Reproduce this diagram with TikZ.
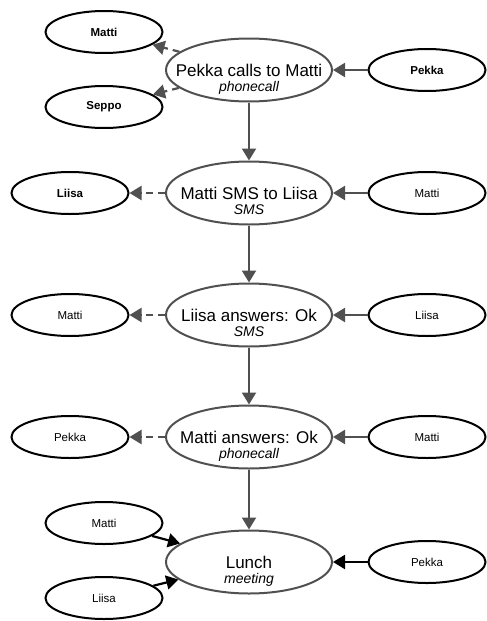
\documentclass[tikz,border=0pt]{standalone}
\usepackage{fontspec}
\setmainfont{Liberation Sans}
\usetikzlibrary{shapes.geometric,arrows.meta}
\definecolor{linegray}{HTML}{505050}
\newcommand{\evtext}[2]{\makebox[0pt]{\fontsize{17}{18}\selectfont #1}\makebox[0pt]{\raisebox{-15pt}[0pt][0pt]{\fontsize{14}{15}\selectfont\itshape #2}}}
\tikzset{
  event/.style={ellipse, draw=linegray, line width=2pt, minimum width=166pt, minimum height=63pt, inner sep=0pt},
  actor/.style={ellipse, draw=black, line width=2pt, minimum width=117pt, minimum height=42pt, inner sep=0pt, font=\fontsize{11.5}{13}\selectfont},
  flow/.style={draw=linegray, line width=2.2pt, -{Triangle[width=14pt,length=12pt]}},
  sends/.style={flow, dash pattern=on 7pt off 5pt},
  joins/.style={flow, draw=black}
}
\begin{document}
\begin{tikzpicture}[x=1pt, y=-1pt]
  \useasboundingbox (0,0) rectangle (487,621);
  % events
  \node[event] (call1) at (249,70) {\evtext{Pekka calls to Matti}{phonecall}};
  \node[event] (sms1) at (249,193) {\evtext{Matti SMS to Liisa}{SMS}};
  \node[event] (sms2) at (249,315) {\evtext{Liisa answers: Ok}{SMS}};
  \node[event] (call2) at (249,437) {\evtext{Matti answers: Ok}{phonecall}};
  \node[event] (lunch) at (249,562) {\evtext{Lunch}{meeting}};
  % actors
  \node[actor] (matti1) at (104,32) {\textbf{Matti}};
  \node[actor] (seppo1) at (104,107) {\textbf{Seppo}};
  \node[actor] (pekka1) at (427,70) {\textbf{Pekka}};
  \node[actor] (liisa2) at (70,193) {\textbf{Liisa}};
  \node[actor] (matti2) at (427,193) {Matti};
  \node[actor] (matti3) at (70,315) {Matti};
  \node[actor] (liisa3) at (427,315) {Liisa};
  \node[actor] (pekka4) at (70,437) {Pekka};
  \node[actor] (matti4) at (427,437) {Matti};
  \node[actor] (matti5) at (104,523) {Matti};
  \node[actor] (liisa5) at (104,598) {Liisa};
  \node[actor] (pekka5) at (427,562) {Pekka};
  % sequence
  \draw[flow] (call1) -- (sms1);
  \draw[flow] (sms1) -- (sms2);
  \draw[flow] (sms2) -- (call2);
  \draw[flow] (call2) -- (lunch);
  % senders
  \draw[flow] (pekka1) -- (call1);
  \draw[flow] (matti2) -- (sms1);
  \draw[flow] (liisa3) -- (sms2);
  \draw[flow] (matti4) -- (call2);
  % receivers
  \draw[sends] (call1) -- (matti1);
  \draw[sends] (call1) -- (seppo1);
  \draw[sends] (sms1) -- (liisa2);
  \draw[sends] (sms2) -- (matti3);
  \draw[sends] (call2) -- (pekka4);
  % participants
  \draw[joins] (matti5) -- (lunch);
  \draw[joins] (liisa5) -- (lunch);
  \draw[joins] (pekka5) -- (lunch);
\end{tikzpicture}
\end{document}
